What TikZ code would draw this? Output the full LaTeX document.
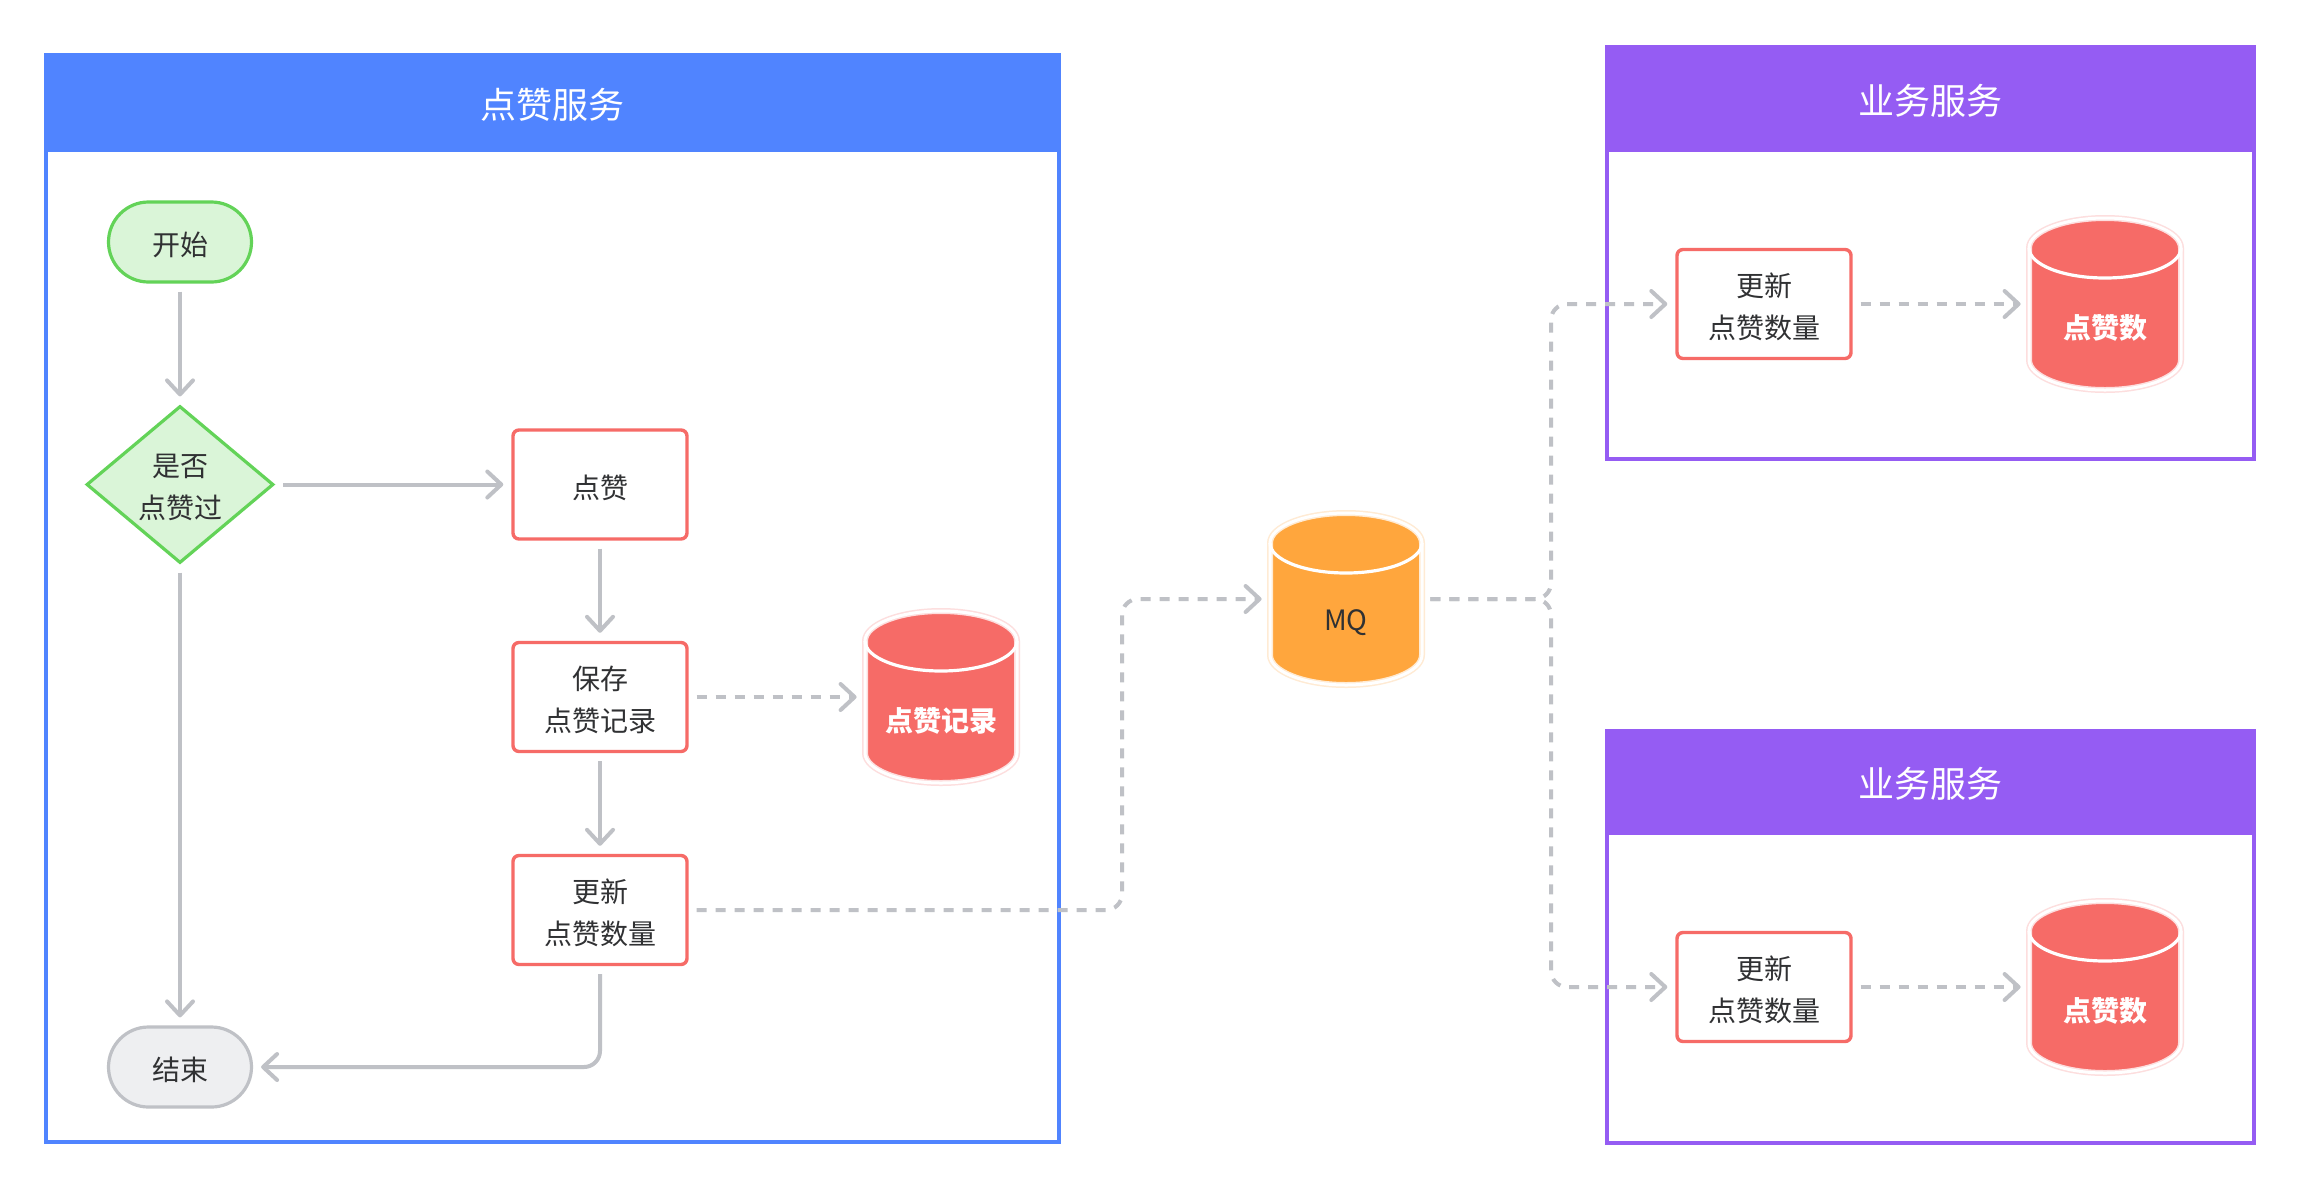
\documentclass[tikz,border=0pt]{standalone}
\usepackage{fontspec}
\setmainfont{Noto Sans CJK SC}
\usetikzlibrary{arrows.meta,shapes.geometric}
\definecolor{cblue}{HTML}{5084FF}
\definecolor{cpurple}{HTML}{955CF3}
\definecolor{cgreen}{HTML}{63D358}
\definecolor{cgreenl}{HTML}{DAF5D8}
\definecolor{cred}{HTML}{F66B67}
\definecolor{corange}{HTML}{FFA63D}
\definecolor{cgray}{HTML}{BFC1C6}
\definecolor{cendl}{HTML}{EEEFF1}
\definecolor{ctext}{HTML}{303133}
\newcommand\mycyl[6]{% name, cx, cy, color, textcolor, text
  \node[inner sep=0pt, minimum width=76pt, minimum height=86pt] (#1) at (#2,#3) {};
  \path[draw=#4!22, line width=3pt, fill=#4] (#2-76,#3-56) -- (#2-76,#3+56)
    arc[start angle=180,end angle=0,x radius=76,y radius=30] -- (#2+76,#3-56)
    arc[start angle=0,end angle=-180,x radius=76,y radius=30] -- cycle;
  \draw[white, line width=1.5pt] (#2-76,#3-56) -- (#2-76,#3+56)
    arc[start angle=180,end angle=0,x radius=76,y radius=30] -- (#2+76,#3-56)
    arc[start angle=0,end angle=-180,x radius=76,y radius=30] -- cycle;
  \draw[white, line width=1.6pt] (#2-76,#3-56) arc[start angle=180,end angle=0,x radius=76,y radius=30];
  \node[text=#5, inner sep=0pt] (#1-t) at (#2,#3+24) {#6};
}
\begin{document}
\begin{tikzpicture}[x=0.5pt,y=-0.5pt,
  font=\fontsize{14pt}{20.8pt}\selectfont, text=ctext,
  conn/.style={draw=cgray, line width=2pt, -{Straight Barb[length=7pt,width=13pt,round]}, shorten >=4pt, shorten <=4pt},
  dconn/.style={conn, dash pattern=on 5pt off 4.5pt},
  proc/.style={draw=cred, fill=white, line width=1.7pt, rounded corners=3pt, minimum width=87pt, minimum height=54.5pt, inner sep=0pt},
  term/.style={rounded corners=20pt, minimum width=71.5pt, minimum height=40pt, line width=1.6pt, inner sep=0pt},
  txt/.style={inner sep=0pt, align=center},
  title/.style={text=white, font=\fontsize{18pt}{22pt}\selectfont, inner sep=0pt}]
\useasboundingbox (0,0) rectangle (2302,1190);
\fill[white] (0,0) rectangle (2302,1190);
% frames
\draw[cblue, line width=2pt] (46,55) rectangle (1059,1142);
\fill[cblue] (45,54) rectangle (1060,152);
\node[title] (t1) at (552.5,105) {点赞服务};
\draw[cpurple, line width=2pt] (1607,47) rectangle (2254,459);
\fill[cpurple] (1606,46) rectangle (2255,152);
\node[title] (t2) at (1930.5,101) {业务服务};
\draw[cpurple, line width=2pt] (1607,731) rectangle (2254,1143);
\fill[cpurple] (1606,730) rectangle (2255,835);
\node[title] (t3) at (1930.5,784) {业务服务};
% shapes
\node[term, draw=cgreen, fill=cgreenl] (start) at (180,242) {};
\node[diamond, draw=cgreen, fill=cgreenl, line width=1.6pt, minimum width=93.5pt, minimum height=78.5pt, inner sep=0pt] (chk) at (180,484.5) {};
\node[proc] (like) at (600,484.5) {};
\node[proc] (save) at (600,697) {};
\node[proc] (upd) at (600,910) {};
\node[term, draw=cgray, fill=cendl] (end) at (180,1067) {};
\node[proc] (upd1) at (1764,304) {};
\node[proc] (upd2) at (1764,987) {};
% texts
\node[txt] (start-t) at ([yshift=-1.5pt]start.center) {开始};
\node[txt] (chk-t) at ([yshift=-1.5pt]chk.center) {是否\\点赞过};
\node[txt] (like-t) at ([yshift=-1.5pt]like.center) {点赞};
\node[txt] (save-t) at ([yshift=-1.5pt]save.center) {保存\\点赞记录};
\node[txt] (upd-t) at ([yshift=-1.5pt]upd.center) {更新\\点赞数量};
\node[txt] (end-t) at ([yshift=-1.5pt]end.center) {结束};
\node[txt] (upd1-t) at ([yshift=-1.5pt]upd1.center) {更新\\点赞数量};
\node[txt] (upd2-t) at ([yshift=-1.5pt]upd2.center) {更新\\点赞数量};
% cylinders
\mycyl{db1}{941}{697}{cred}{white}{\bfseries 点赞记录}
\mycyl{mq}{1346}{599}{corange}{ctext}{MQ}
\mycyl{db2}{2105}{304}{cred}{white}{\bfseries 点赞数}
\mycyl{db3}{2105}{987}{cred}{white}{\bfseries 点赞数}
% connectors
\draw[conn] (start) -- (chk);
\draw[conn] (chk) -- (like);
\draw[conn] (like) -- (save);
\draw[conn] (save) -- (upd);
\draw[conn] (chk) -- (end);
\draw[conn, rounded corners=8pt] (upd.south) |- (end.east);
\draw[dconn] (save) -- (db1);
\coordinate (b1) at (1122,599);
\draw[dconn, rounded corners=8pt] (upd.east) -| (b1) -- (mq.west);
\coordinate (j) at (1551,599);
\draw[dconn, rounded corners=8pt] (mq.east) -- (j) |- (upd1.west);
\draw[dconn, rounded corners=8pt] (mq.east) -- (j) |- (upd2.west);
\draw[dconn] (upd1) -- (db2);
\draw[dconn] (upd2) -- (db3);
\end{tikzpicture}
\end{document}
